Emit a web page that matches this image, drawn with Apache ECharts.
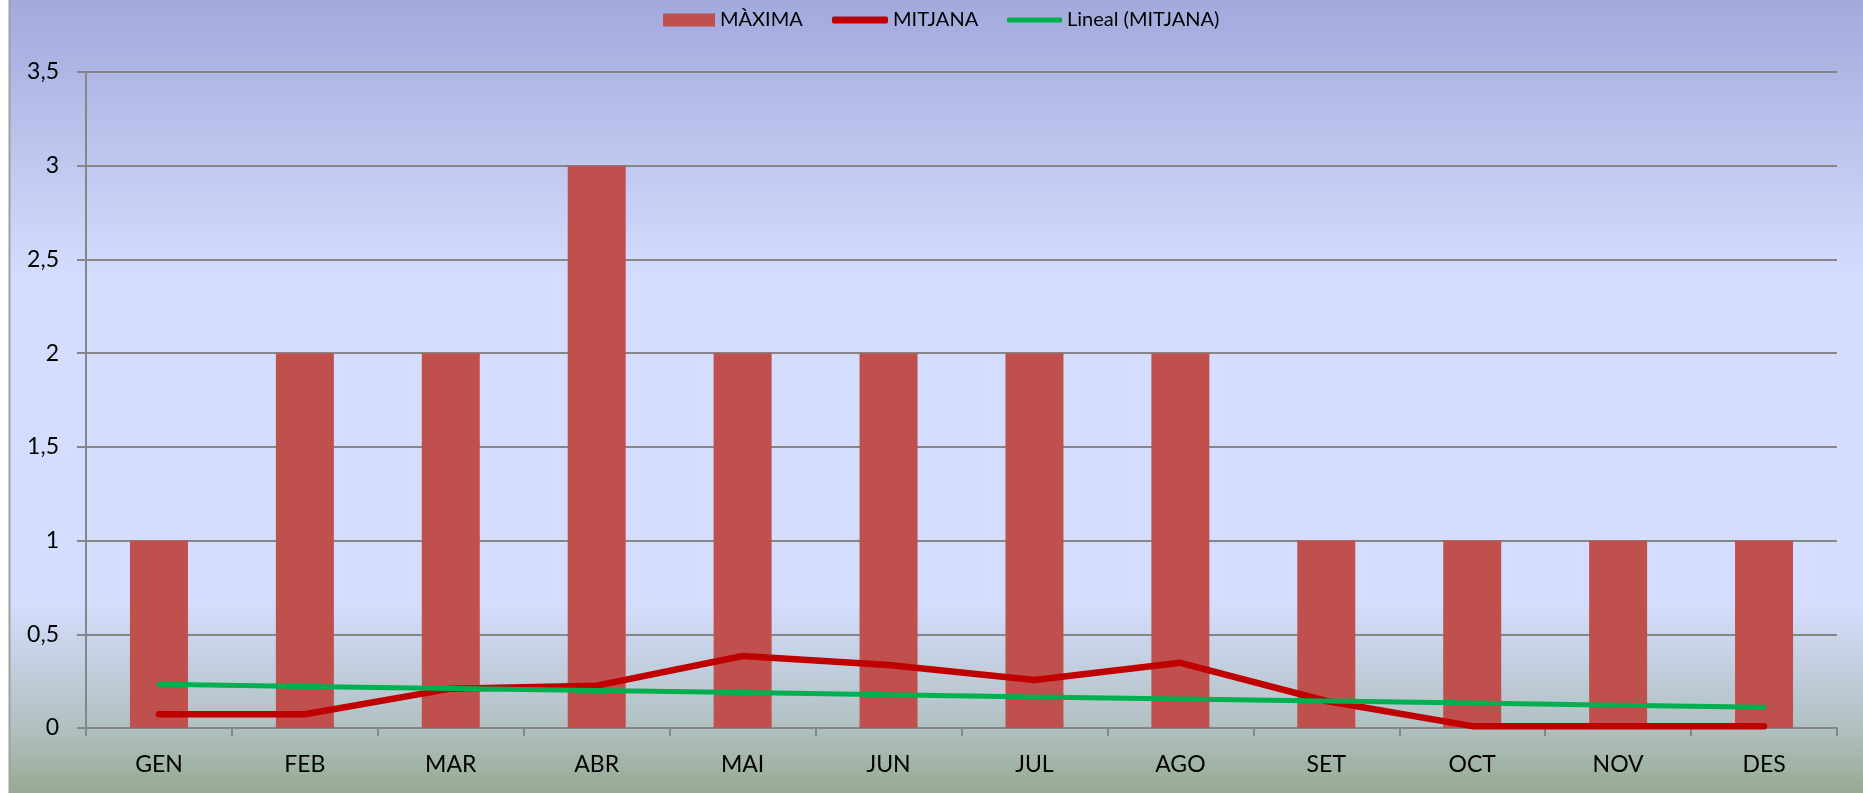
<!DOCTYPE html>
<html>
<head>
<meta charset="utf-8">
<script src="https://cdn.jsdelivr.net/npm/echarts@6/dist/echarts.min.js"></script>
<style>
html,body{margin:0;padding:0;background:#fff;}
#c{width:1863px;height:793px;}
</style>
</head>
<body>
<div id="c"></div>
<script>
var categories = ['GEN','FEB','MAR','ABR','MAI','JUN','JUL','AGO','SET','OCT','NOV','DES'];
var maxima = [1, 2, 2, 3, 2, 2, 2, 2, 1, 1, 1, 1];
var mitjana = [0.073, 0.073, 0.21, 0.226, 0.384, 0.336, 0.256, 0.348, 0.144, 0.01, 0.01, 0.01];
var lineal = [0.233, 0.222, 0.211, 0.200, 0.189, 0.177, 0.166, 0.155, 0.144, 0.133, 0.122, 0.111];
var yTicks = {min: 0, max: 3.5, interval: 0.5};

var FONT = 'Lato, "Open Sans", sans-serif';
var GRAY = '#868686';
var chart = echarts.init(document.getElementById('c'));
var legendText = {fontFamily: FONT, fontSize: 20, color: '#000', lineHeight: 22};
chart.setOption({
  animation: false,
  graphic: [
    {type: 'rect', z: -100, silent: true, shape: {x: 9, y: 0, width: 1854, height: 793},
     style: {fill: new echarts.graphic.LinearGradient(0, 0, 0, 1, [
       {offset: 0, color: '#a2a9dc'},
       {offset: 0.35, color: '#d4ddfd'},
       {offset: 0.76, color: '#d4ddfd'},
       {offset: 0.92, color: '#b0c0c0'},
       {offset: 1, color: '#96aa92'}
     ])}},
    {type: 'line', z: -99, silent: true, shape: {x1: 9.5, y1: 0, x2: 9.5, y2: 793},
     style: {stroke: '#a0a0a0', lineWidth: 2}}
  ],
  grid: {left: 86, right: 26, top: 72, bottom: 65, containLabel: false},
  legend: [
    {data: ['MÀXIMA'], left: 663, top: 9, padding: 0, itemWidth: 52, itemHeight: 13, icon: 'rect', textStyle: legendText},
    {data: ['MITJANA'], left: 832, top: 9, padding: 0, itemWidth: 56, itemHeight: 7, icon: 'roundRect', textStyle: legendText},
    {data: ['Lineal (MITJANA)'], left: 1007, top: 9, padding: 0, itemWidth: 55, itemHeight: 5, icon: 'roundRect', textStyle: legendText}
  ],
  xAxis: {
    type: 'category', data: categories, boundaryGap: true,
    axisLine: {lineStyle: {color: GRAY, width: 2}},
    axisTick: {show: true, length: 8, lineStyle: {color: GRAY, width: 2}},
    axisLabel: {fontFamily: FONT, fontSize: 23, color: '#000', margin: 25}
  },
  yAxis: {
    type: 'value', min: yTicks.min, max: yTicks.max, interval: yTicks.interval,
    axisLine: {show: true, lineStyle: {color: GRAY, width: 2}},
    axisTick: {show: true, length: 9, lineStyle: {color: GRAY, width: 2}},
    splitLine: {lineStyle: {color: GRAY, width: 2}},
    axisLabel: {fontFamily: FONT, fontSize: 23, color: '#000', margin: 27,
      formatter: function (v) { return String(v).replace('.', ','); }}
  },
  series: [
    {name: 'MÀXIMA', type: 'bar', data: maxima, barWidth: 58, itemStyle: {color: '#c0504d'}, z: 2},
    {name: 'MITJANA', type: 'line', data: mitjana, showSymbol: false, symbol: 'none', z: 3,
     itemStyle: {color: '#c00000'}, lineStyle: {color: '#c00000', width: 6.5, cap: 'round', join: 'round'}},
    {name: 'Lineal (MITJANA)', type: 'line', data: lineal, showSymbol: false, symbol: 'none', z: 4,
     itemStyle: {color: '#00b050'}, lineStyle: {color: '#00b050', width: 5, cap: 'round'}}
  ]
});
</script>
</body>
</html>
